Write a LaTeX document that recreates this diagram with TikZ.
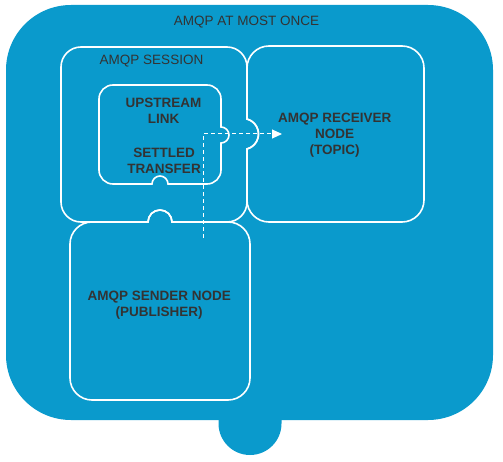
\documentclass[tikz,border=0pt]{standalone}
\usepackage{fontspec}
\setmainfont{Liberation Sans}
\usetikzlibrary{arrows.meta}
\definecolor{amqpblue}{HTML}{0A9ACC}
\definecolor{txtgray}{HTML}{333333}
\begin{document}
\begin{tikzpicture}[x=1bp,y=-1bp,
  outline/.style={draw=white,line width=1.6bp},
  lbl/.style={text=txtgray,font=\fontsize{13.5bp}{16bp}\selectfont,inner sep=0pt,align=center},
  blbl/.style={lbl,font=\fontsize{13.5bp}{16bp}\selectfont\bfseries},
  flow/.style={draw=white,line width=1bp,dash pattern=on 4bp off 3bp,-{Triangle[length=10bp,width=9bp]}}]
\useasboundingbox (0,0) rectangle (503,462);
% outer container
\fill[amqpblue,rounded corners=65bp] (6,5) rectangle (493,420);
\fill[amqpblue] (218.5,418) -- (218.5,423.5) arc[start angle=180,end angle=0,radius=31.5] -- (281.5,418) -- cycle;
% session box
\draw[outline] (81,47) -- (227,47) arc[start angle=-90,end angle=0,radius=20]
  -- (247,119) arc[start angle=-75,end angle=75,radius=15.5]
  -- (247,202) arc[start angle=0,end angle=90,radius=20]
  -- (172,222) arc[start angle=0,end angle=-180,radius=12]
  -- (81,222) arc[start angle=90,end angle=180,radius=20]
  -- (61,67) arc[start angle=180,end angle=270,radius=20] -- cycle;
% receiver box
\draw[outline] (269,46) -- (402,46) arc[start angle=-90,end angle=0,radius=22]
  -- (424,200) arc[start angle=0,end angle=90,radius=22]
  -- (269,222) arc[start angle=90,end angle=180,radius=22]
  -- (247,149) arc[start angle=75,end angle=-75,radius=15.5]
  -- (247,68) arc[start angle=180,end angle=270,radius=22] -- cycle;
% upstream link box
\draw[outline] (113,85) -- (207,85) arc[start angle=-90,end angle=0,radius=14]
  -- (221,127) arc[start angle=-90,end angle=90,radius=8]
  -- (221,170) arc[start angle=0,end angle=90,radius=14]
  -- (168,184) arc[start angle=0,end angle=-180,radius=8]
  -- (113,184) arc[start angle=90,end angle=180,radius=14]
  -- (99,99) arc[start angle=180,end angle=270,radius=14] -- cycle;
% sender box
\draw[outline] (92,222) -- (148,222) arc[start angle=180,end angle=360,radius=12]
  -- (228,222) arc[start angle=-90,end angle=0,radius=22]
  -- (250,378) arc[start angle=0,end angle=90,radius=22]
  -- (92,400) arc[start angle=90,end angle=180,radius=22]
  -- (70,244) arc[start angle=180,end angle=270,radius=22] -- cycle;
% labels
\node[lbl] (title) at (246.5,22) {AMQP AT MOST ONCE};
\node[lbl] (session) at (151.5,61) {AMQP SESSION};
\node[blbl] (upstream) at (163.5,111) {UPSTREAM\\LINK};
\node[blbl] (settled) at (164,161) {SETTLED\\TRANSFER};
\node[blbl] (receiver) at (334.7,135.5) {AMQP RECEIVER\\NODE\\(TOPIC)};
\node[blbl] (sender) at (159.2,305.5) {AMQP SENDER NODE\\(PUBLISHER)};
% flow
\coordinate (src) at (203,238);
\coordinate (dst) at (282,134);
\draw[flow] (src) |- (dst);
\end{tikzpicture}
\end{document}
